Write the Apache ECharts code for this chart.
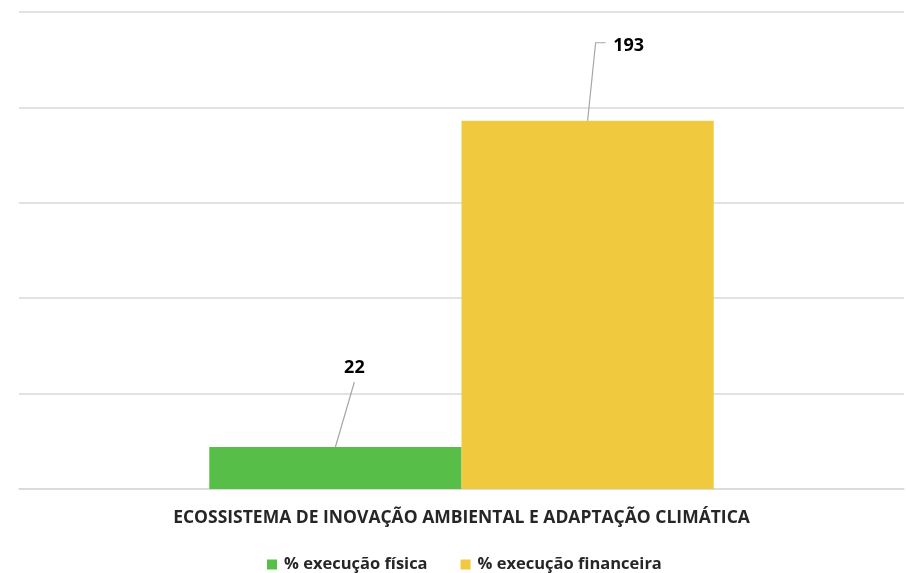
<!DOCTYPE html>
<html>
<head>
<meta charset="utf-8">
<script src="https://cdn.jsdelivr.net/npm/echarts@6/dist/echarts.min.js"></script>
<style>
  html, body { margin: 0; padding: 0; background: #fff; }
  #chart { width: 906px; height: 573px; }
</style>
</head>
<body>
<div id="chart"></div>
<script>
// dados
var categorias = ['ECOSSISTEMA DE INOVAÇÃO AMBIENTAL E ADAPTAÇÃO CLIMÁTICA'];
var execFisica = [22];
var execFinanceira = [193];
var nomes = ['% execução física', '% execução financeira'];

var fonte = '"Open Sans", "Noto Sans", sans-serif';
var corLinha = '#a6a6a6';

var chart = echarts.init(document.getElementById('chart'));
var option = {
  animation: false,
  color: ['#57BF47', '#F0C93E'],
  grid: { left: 19, right: 2, top: 12, bottom: 84 },
  legend: {
    left: 262,
    top: 551,
    itemWidth: 10,
    itemHeight: 10,
    itemGap: 33,
    icon: 'rect',
    data: nomes,
    textStyle: { fontFamily: fonte, fontSize: 16.5, fontWeight: 'bold', color: '#262626', padding: [0, 0, 0, 2] }
  },
  xAxis: {
    type: 'category',
    data: categorias,
    axisTick: { show: false },
    axisLine: { lineStyle: { color: '#d9d9d9', width: 1.5 } },
    axisLabel: { margin: 20, fontFamily: fonte, fontSize: 17.5, fontWeight: 'bold', color: '#262626' }
  },
  yAxis: {
    type: 'value',
    min: 0,
    max: 250,
    interval: 50,
    axisLabel: { show: false },
    axisLine: { show: false },
    axisTick: { show: false },
    splitLine: { lineStyle: { color: '#d9d9d9', width: 1.5 } }
  },
  series: [
    {
      name: nomes[0],
      type: 'bar',
      data: execFisica,
      barGap: '0%',
      barCategoryGap: '43%',
      label: {
        show: true, position: 'top', distance: 0,
        fontFamily: fonte, fontSize: 18, fontWeight: 'bold', color: '#000'
      },
      labelLayout: { dx: 19, dy: -70 }
    },
    {
      name: nomes[1],
      type: 'bar',
      data: execFinanceira,
      label: {
        show: true, position: 'top', distance: 0,
        fontFamily: fonte, fontSize: 18, fontWeight: 'bold', color: '#000'
      },
      labelLayout: { dx: 41, dy: -66 }
    }
  ]
};
chart.setOption(option);

// linhas de chamada: partem do topo de cada barra (layout calculado pelo ECharts)
function topoBarra(i) {
  var l = chart.getModel().getSeriesByIndex(i).getData().getItemLayout(0);
  return [l.x + l.width / 2, l.y + (l.height < 0 ? l.height : 0)];
}
var t0 = topoBarra(0), t1 = topoBarra(1);
chart.setOption({
  graphic: [
    { type: 'polyline', silent: true, z: 10,
      shape: { points: [t0, [t0[0] + 19, t0[1] - 65]] },
      style: { stroke: corLinha, lineWidth: 1.2, fill: null } },
    { type: 'polyline', silent: true, z: 10,
      shape: { points: [t1, [t1[0] + 8, t1[1] - 78], [t1[0] + 18, t1[1] - 78]] },
      style: { stroke: corLinha, lineWidth: 1.2, fill: null } }
  ]
});
</script>
</body>
</html>
